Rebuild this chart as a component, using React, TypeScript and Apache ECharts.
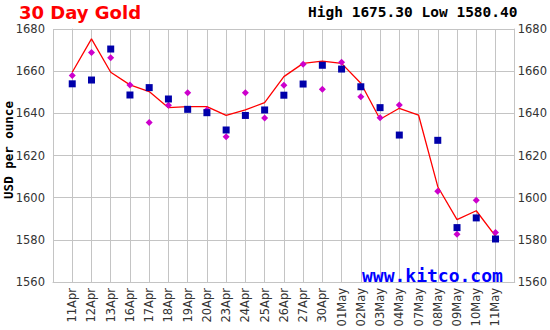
import React, { useEffect, useRef } from "react";
import * as echarts from "echarts";

const categories = ["11Apr","12Apr","13Apr","16Apr","17Apr","18Apr","19Apr","20Apr","23Apr","24Apr","25Apr","26Apr","27Apr","30Apr","01May","02May","03May","04May","07May","08May","09May","10May","11May"];

const closeLine = [1659.5, 1675.3, 1659.5, 1653.5, 1650.3, 1642.7, 1643.2, 1643.2, 1639.0, 1641.6, 1645.1, 1657.4, 1663.7, 1664.8, 1663.7, 1654.3, 1637.2, 1642.4, 1639.2, 1605.2, 1589.6, 1593.8, 1581.8];

const amFix: (number | null)[] = [1658.0, 1668.8, 1666.4, 1653.4, 1635.6, 1643.8, 1649.8, 1641.6, 1628.9, 1649.8, 1637.8, 1653.3, 1663.3, 1651.4, 1664.2, 1647.9, 1637.9, 1644.0, null, 1603.0, 1582.7, 1598.8, 1583.5];

const pmFix: (number | null)[] = [1654.0, 1655.8, 1670.5, 1648.7, 1652.2, 1646.8, 1641.9, 1640.3, 1632.1, 1639.0, 1641.6, 1648.6, 1653.9, 1662.8, 1661.0, 1652.6, 1642.7, 1629.7, null, 1627.2, 1585.8, 1590.4, 1580.4];

const yTicks = { min: 1560, max: 1680, interval: 20 };

const toPoints = (arr: (number | null)[]) =>
  arr.map((v, i) => (v == null ? null : [i, v])).filter((p) => p !== null);

export default function App() {
  const ref = useRef<HTMLDivElement>(null);

  useEffect(() => {
    if (!ref.current) return;
    const chart = echarts.init(ref.current, null, { renderer: "svg" });
    const gridColor = "#c4c4c4";
    const labelFont = { fontFamily: "DejaVu Sans", fontSize: 11.5, color: "#333" };
    chart.setOption({
      animation: false,
      grid: { left: 53, right: 34, top: 29, bottom: 48, containLabel: false },
      xAxis: {
        type: "value",
        min: -1,
        max: categories.length,
        interval: 1,
        axisLine: { show: true, lineStyle: { color: gridColor } },
        axisTick: { show: false },
        splitLine: { show: true, lineStyle: { color: gridColor, width: 1 } },
        axisLabel: {
          ...labelFont,
          rotate: 90,
          margin: 6,
          showMinLabel: true,
          showMaxLabel: true,
          formatter: (v: number) => categories[Math.round(v)] ?? "",
        },
      },
      yAxis: [
        {
          type: "value",
          position: "left",
          ...yTicks,
          axisLine: { show: true, lineStyle: { color: gridColor } },
          axisTick: { show: false },
          splitLine: { show: true, lineStyle: { color: gridColor, width: 1 } },
          axisLabel: { ...labelFont, margin: 8, formatter: (v: number) => String(v) },
        },
        {
          type: "value",
          position: "right",
          ...yTicks,
          axisLine: { show: true, lineStyle: { color: gridColor } },
          axisTick: { show: false },
          splitLine: { show: false },
          axisLabel: { ...labelFont, margin: 3, formatter: (v: number) => String(v) },
        },
      ],
      series: [
        {
          type: "line",
          data: closeLine.map((v, i) => [i, v]),
          showSymbol: false,
          lineStyle: { color: "#ff0000", width: 1.3 },
          z: 2,
        },
        {
          type: "scatter",
          data: toPoints(amFix),
          symbol: "diamond",
          symbolSize: 7,
          itemStyle: { color: "#cc00cc", opacity: 1 },
          z: 3,
        },
        {
          type: "scatter",
          data: toPoints(pmFix),
          symbol: "rect",
          symbolSize: 7,
          itemStyle: { color: "#0000aa", opacity: 1 },
          z: 4,
        },
      ],
      graphic: [
        {
          type: "text",
          x: 19,
          y: 12.5,
          style: {
            text: "30 Day Gold",
            fill: "#ff0000",
            font: "bold 18px 'DejaVu Sans'",
            textAlign: "left",
            textVerticalAlign: "middle",
          },
        },
        {
          type: "text",
          x: 308,
          y: 12,
          style: {
            text: "High 1675.30 Low 1580.40",
            fill: "#000",
            font: "bold 14.5px 'DejaVu Sans Mono'",
            textAlign: "left",
            textVerticalAlign: "middle",
          },
        },
        {
          type: "text",
          x: 8,
          y: 150,
          rotation: Math.PI / 2,
          style: {
            text: "USD per ounce",
            fill: "#000",
            font: "bold 12.5px 'DejaVu Sans Mono'",
            textAlign: "center",
            textVerticalAlign: "middle",
          },
        },
        {
          type: "text",
          x: 362,
          y: 275,
          z: 10,
          style: {
            text: "www.kitco.com",
            fill: "#0000ff",
            font: "bold 18px 'DejaVu Sans Mono'",
            textAlign: "left",
            textVerticalAlign: "middle",
          },
        },
      ],
    });
    return () => chart.dispose();
  }, []);

  return (
    <div
      ref={ref}
      style={{ position: "absolute", left: 0, top: 0, width: 550, height: 330, background: "#fff" }}
    />
  );
}
